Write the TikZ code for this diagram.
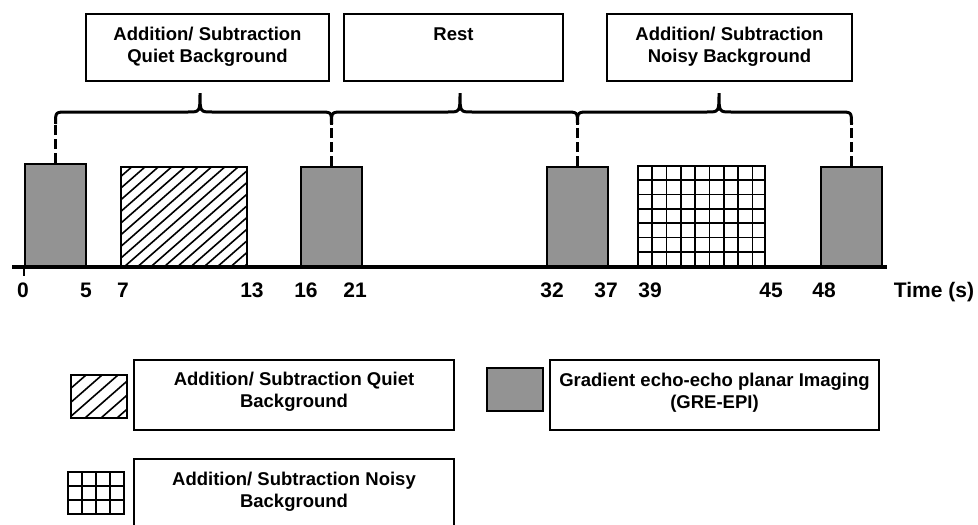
\documentclass[tikz,border=0pt]{standalone}
\usepackage{fontspec}
\setmainfont{Liberation Sans}
\usepackage{tikz}
\usetikzlibrary{calc}

\definecolor{epigray}{RGB}{147,147,147}

\tikzset{
    capbox/.style={draw, line width=1.6, inner sep=0, minimum height=67},
    captext/.style={anchor=north, inner sep=0, align=center, font=\bfseries\fontsize{18.5}{22}\selectfont},
    epibox/.style={draw, fill=epigray, line width=1.6, inner sep=0, minimum width=61, minimum height=100},
    hatchbox/.style={draw, line width=1.6, inner sep=0, path picture={
        \foreach \i in {0,...,40}
            \draw[line width=1.6] ([xshift=-130+\i*#1]path picture bounding box.south west) -- ++(130,-114);
    }},
    gridbox/.style={draw, line width=1.6, inner sep=0, path picture={
        \foreach \i in {1,...,12}{
            \draw[line width=1.7] ([xshift=\i*#1]path picture bounding box.north west) -- ([xshift=\i*#1]path picture bounding box.south west);
            \draw[line width=1.7] ([yshift=-\i*#1]path picture bounding box.north west) -- ([yshift=-\i*#1]path picture bounding box.north east);
        }
    }},
    brace/.style={line width=3},
    dashln/.style={line width=3, dash pattern=on 10pt off 4pt},
    ticklabel/.style={anchor=base, inner sep=0, font=\bfseries\fontsize{21}{25}\selectfont}
}

\begin{document}
\begin{tikzpicture}[x=1pt,y=-1pt]
    \useasboundingbox (0,0) rectangle (978,525);

    % condition boxes on top
    \node[capbox, minimum width=243] (quietcap) at (207.5,47.5) {};
    \node[captext] (quiettxt) at ([yshift=-14]quietcap.north) {Addition/ Subtraction\\Quiet Background};
    \node[capbox, minimum width=219] (restcap) at (453.5,47.5) {};
    \node[captext] (resttxt) at ([yshift=-14]restcap.north) {Rest};
    \node[capbox, minimum width=245] (noisycap) at (729.5,47.5) {};
    \node[captext] (noisytxt) at ([yshift=-14]noisycap.north) {Addition/ Subtraction\\Noisy Background};

    % blocks on the time line
    \node[epibox, minimum height=103] (g1) at (55.5,215.5) {};
    \node[hatchbox=13.3, minimum width=126, minimum height=100] (quiet) at (184,217) {};
    \node[epibox] (g2) at (331.5,217) {};
    \node[epibox] (g3) at (577.5,217) {};
    \node[gridbox=14.3, minimum width=127, minimum height=100] (noisy) at (701.5,216) {};
    \node[epibox] (g4) at (851.5,217) {};

    % time axis
    \coordinate (axstart) at (12,267);
    \coordinate (axend) at (887,267);
    \draw[line width=4] (axstart) -- (axend);
    \draw[line width=2.5] (axstart -| g1.west) -- ++(0,9);
    \foreach \x/\t in {23/0, 86/5, 123/7, 252/13, 306/16, 355/21, 552/32, 606/37, 650/39, 771/45, 824/48}
        \node[ticklabel] (t\t) at (\x,297) {\t};
    \node[ticklabel] (timelbl) at (934,297) {Time (s)};

    % braces and dashed drops
    \coordinate (lvlb) at (0,124);
    \foreach \i in {1,...,4}{
        \coordinate (e\i) at (g\i.north |- lvlb);
        \draw[dashln] (g\i.north) -- (e\i);
    }
    \foreach \a/\b/\t in {1/2/200, 2/3/460, 3/4/719}
        \draw[brace] (e\a) .. controls ($(e\a)+(0,-12)$) .. ($(e\a)+(12,-12)$) -- (\t-12,112)
            .. controls (\t,112) .. (\t,93) .. controls (\t,112) .. (\t+12,112)
            -- ($(e\b)+(-12,-12)$) .. controls ($(e\b)+(0,-12)$) .. (e\b);

    % legend
    \node[hatchbox=16, minimum width=56, minimum height=43] (quietkey) at (99,396.5) {};
    \node[capbox, minimum width=320, minimum height=70] (quietleg) at (294,395) {};
    \node[captext] (quietlegtxt) at ([yshift=-13]quietleg.north) {Addition/ Subtraction Quiet\\Background};
    \node[epibox, minimum width=56, minimum height=43] (epikey) at (515,389.5) {};
    \node[capbox, minimum width=329, minimum height=70] (epileg) at (714.5,395) {};
    \node[captext] (epilegtxt) at ([yshift=-14]epileg.north) {Gradient echo-echo planar Imaging\\(GRE-EPI)};
    \node[gridbox=14, minimum width=56, minimum height=42] (noisykey) at (96,493) {};
    \node[capbox, minimum width=320, minimum height=80] (noisyleg) at (294,499) {};
    \node[captext] (noisylegtxt) at ([yshift=-14]noisyleg.north) {Addition/ Subtraction Noisy\\Background};
\end{tikzpicture}
\end{document}
